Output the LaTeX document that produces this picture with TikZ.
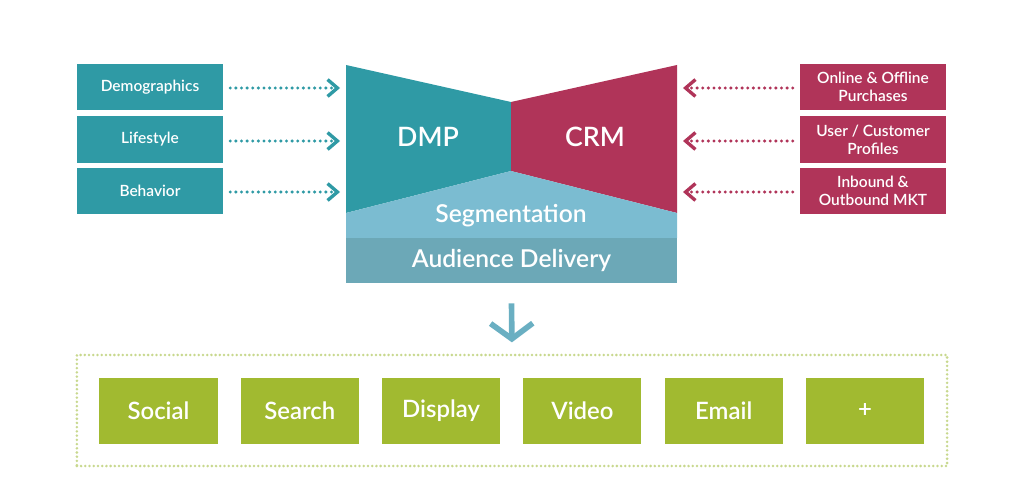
\documentclass[tikz,border=0pt]{standalone}
\usepackage{fontspec}
\setmainfont{Lato}[BoldFont={Lato Semibold}]
\usetikzlibrary{arrows.meta}
\definecolor{dmpteal}{HTML}{2F9AA5}
\definecolor{crmred}{HTML}{B03459}
\definecolor{segblue}{HTML}{7BBCD1}
\definecolor{audblue}{HTML}{6CA8B7}
\definecolor{arrowblue}{HTML}{6AAFC2}
\definecolor{chgreen}{HTML}{A1BA30}
\definecolor{framegreen}{HTML}{C8D88E}
\begin{document}
\begin{tikzpicture}[x=0.025cm,y=0.025cm,
  srcbox/.style={fill=dmpteal,text=white,minimum width=3.65cm,minimum height=1.15cm,font=\bfseries\fontsize{11}{13}\selectfont,align=center},
  crmbox/.style={fill=crmred,text=white,minimum width=3.65cm,minimum height=1.15cm,font=\bfseries\fontsize{11}{13}\selectfont,align=center},
  chbox/.style={fill=chgreen,text=white,minimum width=2.95cm,minimum height=1.65cm,font=\bfseries\fontsize{17}{20}\selectfont},
  feed/.style={line width=2.4pt,line cap=round,dash pattern=on 0pt off 4pt,-{Straight Barb[length=7pt,width=12pt,line width=2.4pt]}},
  bigtext/.style={text=white,font=\bfseries\fontsize{19}{23}\selectfont}]
\tikzstyle{every node}+=[inner sep=0pt]
\useasboundingbox (0,0) rectangle (1024,-497);
\fill [dmpteal] (346,-65) -- (511,-102) -- (511,-171) -- (346,-213) -- cycle;
\fill [crmred] (511,-102) -- (677,-65) -- (677,-213) -- (511,-171) -- cycle;
\fill [segblue] (346,-213) -- (511,-171) -- (677,-213) -- (677,-238) -- (346,-238) -- cycle;
\node [fill=audblue,minimum width=8.275cm,minimum height=1.125cm] (aud) at (511.5,-260.5) {};
\node [bigtext] (dmp) at (428,-137) {DMP};
\node [bigtext] (crm) at (595,-137) {CRM};
\node [text=white,font=\bfseries\fontsize{17.5}{21}\selectfont] (seg) at (511,-216) {Segmentation};
\node [text=white,font=\bfseries\fontsize{17.5}{21}\selectfont] at (aud) {Audience Delivery};
\node [srcbox] (demo) at (150,-87) {Demographics};
\node [srcbox] (life) at (150,-139.5) {Lifestyle};
\node [srcbox] (behav) at (150,-191) {Behavior};
\node [crmbox] (purch) at (873,-87) {Online \& Offline\\Purchases};
\node [crmbox] (prof) at (873,-139.5) {User / Customer\\Profiles};
\node [crmbox] (mkt) at (873,-191) {Inbound \&\\Outbound MKT};
\coordinate (din1) at (340,-88);
\coordinate (din2) at (340,-141);
\coordinate (din3) at (340,-192);
\coordinate (cin1) at (683,-88);
\coordinate (cin2) at (683,-141);
\coordinate (cin3) at (683,-192);
\draw [feed,dmpteal] (demo.east) ++(7,-1) -- (din1);
\draw [feed,dmpteal] (life.east) ++(7,-1.5) -- (din2);
\draw [feed,dmpteal] (behav.east) ++(7,-1) -- (din3);
\draw [feed,crmred] (purch.west) ++(-7,-1) -- (cin1);
\draw [feed,crmred] (prof.west) ++(-7,-1.5) -- (cin2);
\draw [feed,crmred] (mkt.west) ++(-7,-1) -- (cin3);
\node [draw=framegreen,line width=2pt,line cap=round,dash pattern=on 0pt off 3pt,minimum width=21.75cm,minimum height=2.775cm] (frame) at (512,-410.5) {};
\foreach \name/\lbl [count=\i from 0] in {social/Social,search/Search,display/Display,video/Video,email/Email,more/+}
  \node [chbox] (\name) at (158.5+141.3*\i,-411) {\lbl};
\draw [arrowblue,line width=4pt,shorten >=8pt,-{Straight Barb[length=11pt,width=30pt,line width=4pt]}] (aud.south) ++(0,-20) -- (frame.north);
\end{tikzpicture}
\end{document}
